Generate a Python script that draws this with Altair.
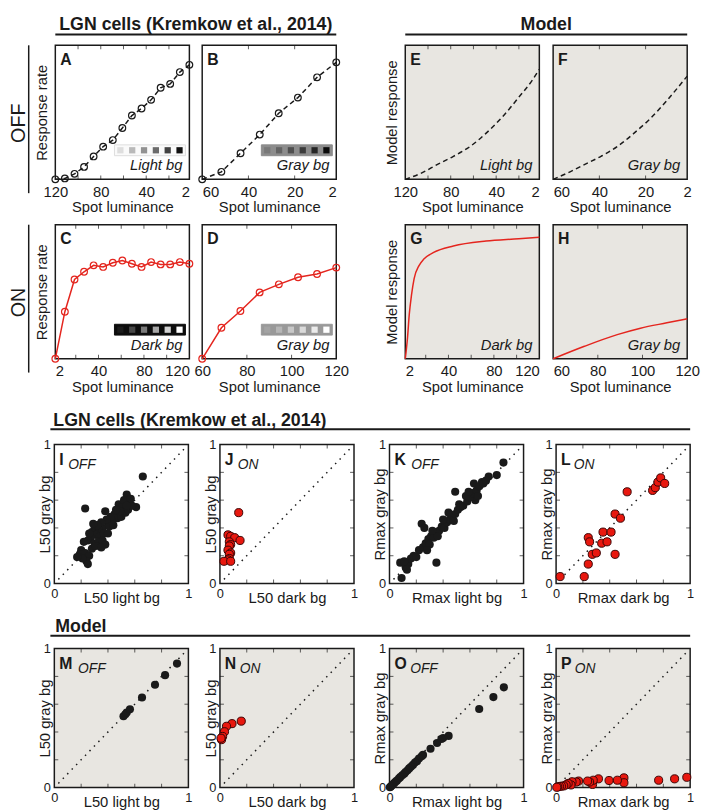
import altair as alt
import pandas as pd

FONT = "Liberation Sans"
INK = "#1a1a1a"
RED = "#e4251e"
RED_FILL = "#e8180f"
RED_EDGE = "#3a0505"
MODEL_BG = "#e8e6e1"

W = 136
H1 = 136
H2 = 141
TOP = 8  # room above every panel row for labels that overhang the frame

# ---------------- text ----------------
HDR_LGN = "LGN cells (Kremkow et al., 2014)"
HDR_MODEL = "Model"
X_LINE = "Spot luminance"
Y_CELL = "Response rate"
Y_MODEL = "Model response"

# ---------------- line panels ----------------
A_lum = [120, 111.6, 103.1, 94.7, 86.3, 77.9, 69.4, 61.0, 52.6, 44.1, 35.7, 27.3, 18.9, 10.4, 2]
A_resp = [0.0, 0.007, 0.041, 0.093, 0.171, 0.244, 0.293, 0.383, 0.476, 0.529, 0.593, 0.683, 0.712, 0.800, 0.854]
B_lum = [60, 51.7, 43.4, 35.1, 26.9, 18.6, 10.3, 2]
B_resp = [0.0, 0.056, 0.195, 0.334, 0.493, 0.610, 0.761, 0.873]
C_lum = [2, 10.4, 18.9, 27.3, 35.7, 44.1, 52.6, 61.0, 69.4, 77.9, 86.3, 94.7, 103.1, 111.6, 120]
C_resp = [0.0, 0.351, 0.591, 0.649, 0.697, 0.685, 0.716, 0.733, 0.709, 0.685, 0.721, 0.704, 0.704, 0.721, 0.709]
D_lum = [60, 68.6, 77.1, 85.7, 94.3, 102.9, 111.4, 120]
D_resp = [0.0, 0.231, 0.356, 0.495, 0.555, 0.608, 0.632, 0.680]
E_lum = [120, 105, 92, 78, 63, 49, 34.5, 20, 8.6, 2]
E_resp = [0.0, 0.05, 0.11, 0.17, 0.245, 0.343, 0.466, 0.613, 0.735, 0.821]
F_lum = [60, 53.6, 46.5, 39.3, 32.2, 25.1, 18.0, 10.8, 2]
F_resp = [0.0, 0.049, 0.11, 0.172, 0.245, 0.343, 0.453, 0.588, 0.77]
G_lum = [2, 4.0, 5.5, 7.5, 9.8, 14.1, 18.4, 27, 44.3, 73.1, 101.9, 120]
G_resp = [0.0, 0.159, 0.329, 0.476, 0.598, 0.695, 0.744, 0.793, 0.841, 0.878, 0.895, 0.907]
H_lum = [60, 74, 88.7, 99.1, 110.9, 120]
H_resp = [0.0, 0.093, 0.180, 0.228, 0.268, 0.298]

LAB_DOWN120 = [120, 80, 40, 2]
LAB_DOWN60 = [60, 40, 20, 2]
LAB_UP120 = [2, 40, 80, 120]
LAB_UP60 = [60, 80, 100, 120]
MINOR_120 = [20, 40, 60, 80, 100]
MINOR_60 = [20, 40]
MINOR_60UP = [80, 100]

# inset swatches (luminance steps of the spots)
SW_LIGHT = ["#dedede", "#b9b9b9", "#929292", "#6b6b6b", "#434343", "#111111"]
SW_GRAY_OFF = ["#787878", "#636363", "#4f4f4f", "#3b3b3b", "#262626", "#0a0a0a"]
SW_DARK = ["#1c1c1c", "#474747", "#7a7a7a", "#a6a6a6", "#d2d2d2", "#ffffff"]
SW_GRAY_ON = ["#a3a3a3", "#b6b6b6", "#c8c8c8", "#dadada", "#ebebeb", "#ffffff"]

# ---------------- scatter panels ----------------
I_x = [0.66, 0.54, 0.23, 0.61, 0.38, 0.48, 0.51, 0.56, 0.45, 0.47, 0.43, 0.40, 0.36, 0.33, 0.30, 0.28, 0.31, 0.34,
       0.37, 0.41, 0.44, 0.50, 0.53, 0.55, 0.58, 0.52, 0.49, 0.42, 0.39, 0.35, 0.32, 0.29, 0.27, 0.25, 0.22, 0.20,
       0.19, 0.23, 0.26, 0.24, 0.25, 0.28, 0.30, 0.33, 0.36, 0.38, 0.26, 0.21, 0.17, 0.40, 0.46, 0.57, 0.54, 0.31, 0.35]
I_y = [0.77, 0.64, 0.54, 0.55, 0.52, 0.57, 0.55, 0.58, 0.50, 0.47, 0.45, 0.44, 0.40, 0.39, 0.40, 0.37, 0.35, 0.34,
       0.36, 0.41, 0.42, 0.48, 0.51, 0.53, 0.56, 0.60, 0.52, 0.48, 0.46, 0.44, 0.42, 0.43, 0.33, 0.31, 0.30, 0.24,
       0.21, 0.22, 0.20, 0.16, 0.14, 0.25, 0.29, 0.30, 0.31, 0.28, 0.36, 0.18, 0.19, 0.36, 0.53, 0.61, 0.56, 0.27, 0.26]
J_x = [0.14, 0.06, 0.08, 0.11, 0.15, 0.07, 0.08, 0.07, 0.06, 0.08, 0.07, 0.07, 0.06, 0.03, 0.08]
J_y = [0.51, 0.35, 0.34, 0.33, 0.31, 0.30, 0.28, 0.27, 0.24, 0.22, 0.21, 0.18, 0.17, 0.16, 0.16]
K_x = [0.85, 0.74, 0.80, 0.69, 0.63, 0.49, 0.52, 0.64, 0.24, 0.35, 0.09, 0.08, 0.12, 0.14, 0.16, 0.18, 0.20, 0.22,
       0.25, 0.27, 0.29, 0.31, 0.33, 0.35, 0.37, 0.39, 0.41, 0.43, 0.45, 0.47, 0.49, 0.51, 0.53, 0.55, 0.58, 0.60,
       0.62, 0.65, 0.67, 0.70, 0.72, 0.30, 0.28, 0.32, 0.26, 0.40, 0.44, 0.13, 0.11, 0.36, 0.48, 0.57, 0.59, 0.66]
K_y = [0.87, 0.77, 0.78, 0.73, 0.72, 0.66, 0.57, 0.60, 0.43, 0.15, 0.04, 0.15, 0.12, 0.14, 0.18, 0.20, 0.19, 0.24,
       0.26, 0.29, 0.32, 0.34, 0.33, 0.37, 0.38, 0.41, 0.40, 0.44, 0.46, 0.49, 0.50, 0.53, 0.55, 0.56, 0.59, 0.62,
       0.65, 0.67, 0.70, 0.72, 0.74, 0.28, 0.24, 0.38, 0.40, 0.46, 0.51, 0.10, 0.16, 0.34, 0.45, 0.63, 0.66, 0.63]
L_x = [0.03, 0.21, 0.24, 0.27, 0.30, 0.24, 0.25, 0.34, 0.38, 0.35, 0.41, 0.44, 0.44, 0.48, 0.53, 0.72, 0.74, 0.76, 0.78, 0.81]
L_y = [0.05, 0.05, 0.14, 0.21, 0.22, 0.33, 0.30, 0.29, 0.30, 0.37, 0.37, 0.21, 0.50, 0.47, 0.66, 0.67, 0.69, 0.73, 0.76, 0.72]
M_x = [0.516, 0.53, 0.54, 0.564, 0.654, 0.751, 0.826, 0.915]
M_y = [0.513, 0.527, 0.54, 0.563, 0.648, 0.74, 0.809, 0.892]
N_x = [0.159, 0.09, 0.049, 0.034, 0.02, 0.012, 0.008]
N_y = [0.478, 0.46, 0.441, 0.402, 0.368, 0.345, 0.355]
O_x = [0.853, 0.775, 0.669, 0.441, 0.40, 0.387, 0.355, 0.306, 0.25, 0.24, 0.22, 0.205, 0.19, 0.175, 0.16, 0.147,
       0.135, 0.12, 0.11, 0.095, 0.08, 0.07, 0.055, 0.045, 0.035, 0.025, 0.015, 0.008, 0.003]
O_y = [0.721, 0.651, 0.565, 0.372, 0.356, 0.35, 0.321, 0.279, 0.235, 0.225, 0.209, 0.19, 0.18, 0.163, 0.15, 0.138,
       0.125, 0.112, 0.10, 0.088, 0.075, 0.065, 0.05, 0.042, 0.032, 0.022, 0.013, 0.006, 0.002]
P_x = [0.975, 0.884, 0.765, 0.506, 0.506, 0.457, 0.395, 0.316, 0.272, 0.277, 0.25, 0.235, 0.168, 0.15, 0.119, 0.111,
       0.09, 0.075, 0.057, 0.04, 0.025, 0.012, 0.005]
P_y = [0.074, 0.063, 0.053, 0.07, 0.035, 0.053, 0.051, 0.063, 0.023, 0.053, 0.04, 0.047, 0.047, 0.04, 0.042, 0.019,
       0.03, 0.02, 0.012, 0.01, 0.008, 0.005, 0.002]
DIAG = [0.03, 0.97]
S_LAB = [0, 1]
S_MINOR = [0.2, 0.4, 0.6, 0.8]


def one(**kw):
    return pd.DataFrame({k: [v] for k, v in kw.items()})


def txt(text, x, y, size, weight="normal", style="normal", align="left", baseline="alphabetic", angle=0):
    return alt.Chart(one(t=text)).mark_text(
        fontSize=size, fontWeight=weight, fontStyle=style, align=align, baseline=baseline,
        angle=angle, color=INK).encode(text="t:N", x=alt.value(x), y=alt.value(y))


def ghost(y0, y1):
    # invisible vertical rule fixing the vertical extent of a row
    return alt.Chart(one(k=0)).mark_rule(opacity=0, strokeWidth=1).encode(
        x=alt.value(0), y=alt.value(y0), y2=alt.value(y1))


def lead(w, h, y0, y1, extra=()):
    return alt.layer(ghost(y0, y1), *extra).properties(width=w, height=h)


def spacer(w, h):
    return alt.Chart(one(k=0)).mark_point(opacity=0, size=1).encode(
        x=alt.value(w / 2), y=alt.value(h / 2)).properties(width=w, height=h)


def header(text, w, h, tx, ty, align, ry):
    t = txt(text, tx, ty, 18, weight="bold", align=align)
    r = alt.Chart(one(k=0)).mark_rule(color=INK, strokeWidth=2).encode(
        x=alt.value(0), x2=alt.value(w), y=alt.value(ry))
    return alt.layer(t, r).properties(width=w, height=h)


def side(label, w, h, bottom):
    t = txt(label, 10, (h + 14) / 2 + 4, 20, align="center", baseline="middle", angle=270)
    r = alt.Chart(one(k=0)).mark_rule(color=INK, strokeWidth=1.5).encode(
        x=alt.value(20), y=alt.value(0), y2=alt.value(h + 14))
    return lead(w, h, -TOP, bottom, (t, r))


def end_align(labels, first, last):
    conds = []
    if first != "center":
        conds.append({"test": f"datum.value == {labels[0]}", "value": first})
    if last != "center":
        conds.append({"test": f"datum.value == {labels[-1]}", "value": last})
    if not conds:
        return "center"
    return {"condition": conds if len(conds) > 1 else conds[0], "value": "center"}


def line_panel(lum, resp, dom, rev, labels, ends, minor, letter, ytitle, color, dashed, markers,
               model, smooth, bgname, inset=None):
    xs = alt.Scale(domain=dom, reverse=rev, nice=False, zero=False)
    ys = alt.Scale(domain=[0, 1], nice=False, zero=False)
    xax = alt.Axis(values=labels, format="d", title=X_LINE, labelFontSize=15, titleFontSize=15,
                   titleFontWeight="normal", ticks=False, domain=False, grid=False, labelPadding=5,
                   labelFlush=False, labelOverlap=False, titleY=21, titleBaseline="top",
                   labelColor=INK, titleColor=INK, labelAlign=end_align(labels, *ends))
    if ytitle:
        yax = alt.Axis(title=ytitle, labels=False, ticks=False, domain=False, grid=False,
                       titleFontSize=15, titleFontWeight="normal", titleX=-6,
                       titleBaseline="bottom", titleColor=INK)
    else:
        yax = None
    xsec = None if inset else xax  # independent x scales need a single axis
    df = pd.DataFrame({"lum": lum, "resp": resp})
    lk = dict(color=color, strokeWidth=1.5, interpolate="monotone" if smooth else "linear")
    if dashed:
        lk["strokeDash"] = [5, 3.5]
    layers = [alt.Chart(df).mark_line(**lk).encode(
        x=alt.X("lum:Q", scale=xs, axis=xax), y=alt.Y("resp:Q", scale=ys, axis=yax))]
    if markers:
        layers.append(alt.Chart(df).mark_point(shape="circle", size=46, filled=False, color=color,
                                               strokeWidth=1.2, opacity=1).encode(
            x=alt.X("lum:Q", scale=xs, axis=xsec), y=alt.Y("resp:Q", scale=ys, axis=yax)))
    tdf = pd.DataFrame({"t": minor})
    for yy in (2, H1 - 2):
        layers.append(alt.Chart(tdf).mark_tick(color=INK, size=4, thickness=1).encode(
            x=alt.X("t:Q", scale=xs, axis=xsec), y=alt.value(yy)))
    if inset:
        fill, edge, colors = inset
        layers.append(alt.Chart(one(k=0)).mark_rect(fill=fill, stroke=edge, strokeWidth=1).encode(
            x=alt.value(60), x2=alt.value(132), y=alt.value(H1 - 35), y2=alt.value(H1 - 24)))
        sq = pd.DataFrame({"i": list(range(len(colors))), "c": colors})
        layers.append(alt.Chart(sq).mark_square(size=40, opacity=1).encode(
            x=alt.X("i:O", scale=alt.Scale(type="point", range=[66, 126], padding=0), axis=None),
            y=alt.value(H1 - 29.5), color=alt.Color("c:N", scale=None)))
    layers.append(txt(letter, 5, 20, 16, weight="bold"))
    layers.append(txt(bgname, W - 7, H1 - 9, 15, style="italic", align="right"))
    ch = alt.layer(*layers).properties(
        width=W, height=H1,
        view=alt.ViewBackground(fill=MODEL_BG if model else "white", stroke=INK, strokeWidth=1.5))
    if inset:
        ch = ch.resolve_scale(x="independent")
    return ch


def scatter_panel(px, py, red, letter, sub, subx, xtitle, ytitle, model):
    sx = alt.Scale(domain=[0, 1], nice=False, zero=False)
    sy = alt.Scale(domain=[0, 1], nice=False, zero=False)
    xax = alt.Axis(values=S_LAB, format="d", title=xtitle, labelFontSize=13, titleFontSize=15,
                   titleFontWeight="normal", ticks=False, domain=False, grid=False, labelPadding=4,
                   labelFlush=False, labelOverlap=False, titleY=7, titleBaseline="top",
                   labelColor=INK, titleColor=INK)
    yax = alt.Axis(values=S_LAB, format="d", title=ytitle, labelFontSize=13, titleFontSize=15,
                   titleFontWeight="normal", ticks=False, domain=False, grid=False, labelPadding=4,
                   labelFlush=False, labelOverlap=False, titleX=-2, titleBaseline="bottom",
                   labelColor=INK, titleColor=INK)
    layers = [alt.Chart(pd.DataFrame({"d": DIAG})).mark_line(
        color=INK, strokeDash=[1.5, 5], strokeWidth=1.5).encode(
        x=alt.X("d:Q", scale=sx, axis=xax), y=alt.Y("d:Q", scale=sy, axis=yax))]
    tdf = pd.DataFrame({"t": S_MINOR})
    for yy in (2, H2 - 2):
        layers.append(alt.Chart(tdf).mark_tick(color=INK, size=4, thickness=1).encode(
            x=alt.X("t:Q", scale=sx, axis=xax), y=alt.value(yy)))
    for xx in (2, W - 2):
        layers.append(alt.Chart(tdf).mark_tick(color=INK, size=4, thickness=1).encode(
            y=alt.Y("t:Q", scale=sy, axis=yax), x=alt.value(xx)))
    pdf = pd.DataFrame({"x": px, "y": py})
    if red:
        pm = dict(size=68, opacity=1, color=RED_FILL, stroke=RED_EDGE, strokeWidth=1)
    else:
        pm = dict(size=68, opacity=1, color=INK)
    layers.append(alt.Chart(pdf).mark_circle(**pm).encode(
        x=alt.X("x:Q", scale=sx, axis=xax), y=alt.Y("y:Q", scale=sy, axis=yax)))
    layers.append(txt(letter, 5, 21, 16, weight="bold"))
    layers.append(txt(sub, subx, 25, 14, style="italic"))
    return alt.layer(*layers).properties(
        width=W, height=H2,
        view=alt.ViewBackground(fill=MODEL_BG if model else "white", stroke=INK, strokeWidth=1.5))


A = line_panel(A_lum, A_resp, [2, 120], True, LAB_DOWN120, ("center", "right"), MINOR_120, "A", Y_CELL,
               INK, True, True, False, False, "Light bg", ("#fafafa", "#dddddd", SW_LIGHT))
B = line_panel(B_lum, B_resp, [2, 60], True, LAB_DOWN60, ("left", "right"), MINOR_60, "B", None,
               INK, True, True, False, False, "Gray bg", ("#8c8c8c", "#8c8c8c", SW_GRAY_OFF))
C = line_panel(C_lum, C_resp, [2, 120], False, LAB_UP120, ("left", "right"), MINOR_120, "C", Y_CELL,
               RED, False, True, False, False, "Dark bg", ("#0d0d0d", "#0d0d0d", SW_DARK))
D = line_panel(D_lum, D_resp, [60, 120], False, LAB_UP60, ("center", "center"), MINOR_60UP, "D", None,
               RED, False, True, False, False, "Gray bg", ("#999999", "#999999", SW_GRAY_ON))
E = line_panel(E_lum, E_resp, [2, 120], True, LAB_DOWN120, ("center", "right"), MINOR_120, "E", Y_MODEL,
               INK, True, False, True, True, "Light bg")
F = line_panel(F_lum, F_resp, [2, 60], True, LAB_DOWN60, ("left", "center"), MINOR_60, "F", None,
               INK, True, False, True, True, "Gray bg")
G = line_panel(G_lum, G_resp, [2, 120], False, LAB_UP120, ("left", "right"), MINOR_120, "G", Y_MODEL,
               RED, False, False, True, True, "Dark bg")
Hh = line_panel(H_lum, H_resp, [60, 120], False, LAB_UP60, ("left", "center"), MINOR_60UP, "H", None,
                RED, False, False, True, True, "Gray bg")

I = scatter_panel(I_x, I_y, False, "I", "OFF", 14, "L50 light bg", "L50 gray bg", False)
J = scatter_panel(J_x, J_y, True, "J", "ON", 18, "L50 dark bg", "L50 gray bg", False)
K = scatter_panel(K_x, K_y, False, "K", "OFF", 22, "Rmax light bg", "Rmax gray bg", False)
L = scatter_panel(L_x, L_y, True, "L", "ON", 18, "Rmax dark bg", "Rmax gray bg", False)
M = scatter_panel(M_x, M_y, False, "M", "OFF", 24, "L50 light bg", "L50 gray bg", True)
N = scatter_panel(N_x, N_y, True, "N", "ON", 20, "L50 dark bg", "L50 gray bg", True)
O = scatter_panel(O_x, O_y, False, "O", "OFF", 21, "Rmax light bg", "Rmax gray bg", True)
P = scatter_panel(P_x, P_y, True, "P", "ON", 19, "Rmax dark bg", "Rmax gray bg", True)


def row(*charts):
    return alt.hconcat(*charts, spacing=0, bounds="flush")


LEAD_TOP = 47
LEAD_SC = 46
R0H = 21
row0 = row(lead(LEAD_TOP, R0H, 0, R0H), header(HDR_LGN, 285, R0H, 142.5, 15.5, "center", 20),
           spacer(70, R0H), header(HDR_MODEL, 286, R0H, 143, 15.5, "center", 20))
row1 = row(side("OFF", LEAD_TOP, H1, H1 + 36), A, spacer(13, H1), B, spacer(70, H1), E, spacer(14, H1), F)
row2 = row(side("ON", LEAD_TOP, H1, H1 + 40), C, spacer(13, H1), D, spacer(70, H1), G, spacer(14, H1), Hh)
HD2 = 35
row3 = row(lead(42, HD2, 0, HD2), header(HDR_LGN, 649, HD2, 3, 26, "left", 29.5))
row4 = row(lead(LEAD_SC, H2, -TOP, H2 + 24), I, spacer(32, H2), J, spacer(36, H2), K, spacer(33, H2), L)
HD3 = 30
row5 = row(lead(42, HD3, 0, HD3), header(HDR_MODEL, 649, HD3, 5, 23.5, "left", 27))
row6 = row(lead(LEAD_SC, H2, -TOP, H2 + 23), M, spacer(32, H2), N, spacer(36, H2), O, spacer(33, H2), P)

chart = alt.vconcat(row0, row1, row2, row3, row4, row5, row6, spacing=0).properties(
    padding=0).configure(font=FONT, padding=0).configure_view(stroke="transparent")

chart.save("out.html", embed_options={"renderer": "svg", "actions": False})
